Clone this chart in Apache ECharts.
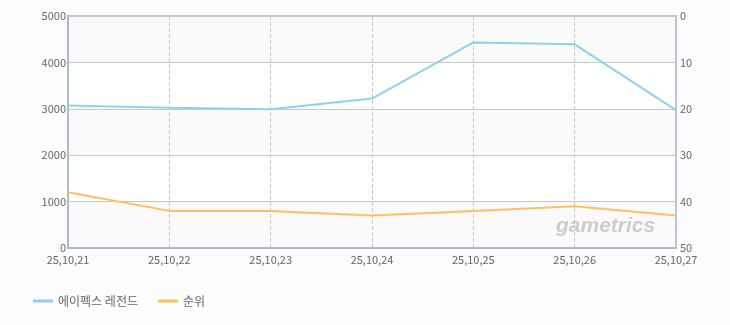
<!DOCTYPE html>
<html><head><meta charset="utf-8">
<script src="https://cdn.jsdelivr.net/npm/echarts@6/dist/echarts.min.js"></script>
<style>html,body{margin:0;padding:0;background:#fcfcfc;}#c{width:730px;height:325px;}</style>
</head><body><div id="c"></div>
<script>
const categories = ['25,10,21','25,10,22','25,10,23','25,10,24','25,10,25','25,10,26','25,10,27'];
const viewers = [3070, 3020, 2990, 3220, 4430, 4390, 2970];
const rank = [38, 42, 42, 43, 42, 41, 43];
const seriesNames = ['에이펙스 레전드', '순위'];

const chart = echarts.init(document.getElementById('c'));
const font = '"Noto Sans CJK KR", "DejaVu Sans", sans-serif';
chart.setOption({
  backgroundColor: '#fcfcfc',
  animation: false,
  grid: { left: 68, right: 54, top: 16, bottom: 77, show: true, borderColor: '#b7c7d8', borderWidth: 2, backgroundColor: 'transparent' },
  legend: {
    left: 28, top: 290, itemWidth: 20, itemHeight: 10, itemGap: 20,
    textStyle: { color: '#666', fontSize: 12, fontFamily: font },
    data: seriesNames.map(n => ({ name: n, icon: 'path://M0,0 L20,0 L20,3 L0,3 Z' }))
  },
  xAxis: {
    type: 'category', data: categories, boundaryGap: false,
    axisLine: { lineStyle: { color: '#a9bbcd', width: 2 } },
    axisTick: { show: false },
    axisLabel: { color: '#666', fontSize: 11, fontFamily: font, margin: 6, interval: 0 },
    splitLine: { show: true, lineStyle: { color: '#c8c8c8', type: 'dashed' } }
  },
  yAxis: [
    { type: 'value', min: 0, max: 5000, interval: 1000,
      axisLine: { show: true, lineStyle: { color: '#a9bbcd', width: 2 } },
      axisTick: { show: false },
      axisLabel: { color: '#666', fontSize: 11, fontFamily: font, margin: 2, formatter: v => String(v) },
      splitLine: { lineStyle: { color: '#c8c8c8' } },
      splitArea: { show: true, areaStyle: { color: ['#fafafa', '#ffffff'] } } },
    { type: 'value', min: 0, max: 50, interval: 10, inverse: true,
      axisLine: { show: true, lineStyle: { color: '#b7c7d8', width: 2 } },
      axisTick: { show: false },
      axisLabel: { color: '#666', fontSize: 11, fontFamily: font, margin: 4 },
      splitLine: { show: false } }
  ],
  graphic: [{
    type: 'text', left: 556, top: 216, z: 1,
    style: { text: 'gametrics', fill: 'rgba(175,175,175,0.6)', font: 'italic bold 21px "Liberation Sans", sans-serif' }
  }],
  series: [
    { name: seriesNames[0], type: 'line', data: viewers, yAxisIndex: 0, symbol: 'none',
      lineStyle: { color: '#8fd0f0', width: 2 }, itemStyle: { color: '#8fd0f0' } },
    { name: seriesNames[1], type: 'line', data: rank, yAxisIndex: 1, symbol: 'none',
      lineStyle: { color: '#ffc060', width: 2 }, itemStyle: { color: '#ffc060' } }
  ]
});
</script></body></html>
